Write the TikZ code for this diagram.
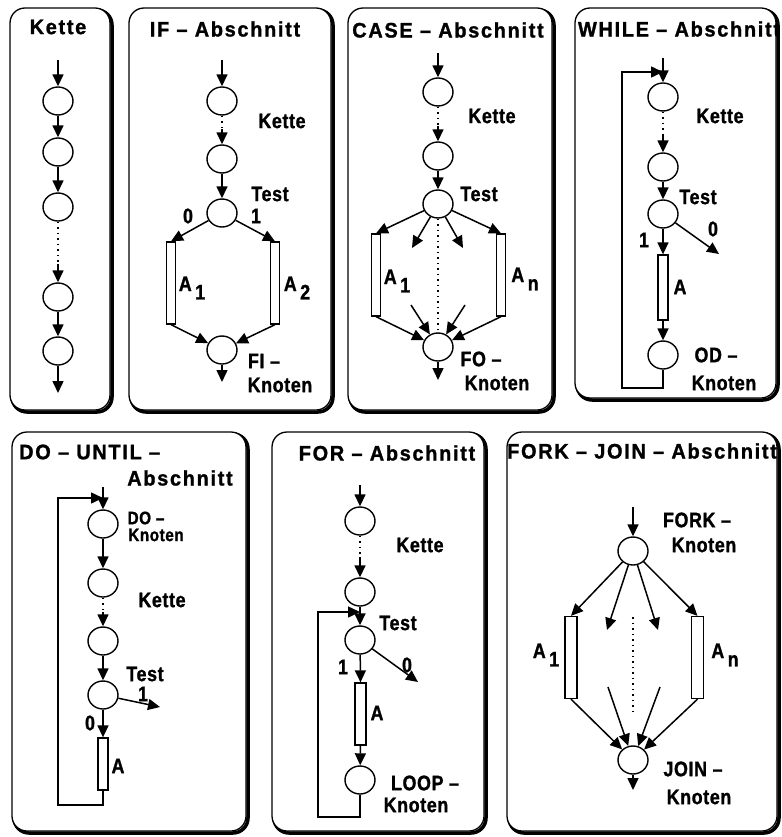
\documentclass[tikz,border=0pt]{standalone}
\usepackage{fontspec}
\newfontfamily\lbl[LetterSpace=3, FakeStretch=0.85, FakeBold=1.2]{Liberation Sans}
\newfontfamily\ttlf[LetterSpace=8, FakeStretch=0.95, FakeBold=1.2]{Liberation Sans}
\usetikzlibrary{arrows.meta,shapes.geometric}
\tikzset{
 every node/.style={font=\lbl\bfseries\fontsize{21}{22}\selectfont, inner sep=0pt},
 ttl/.style={font=\ttlf\bfseries\fontsize{21}{22}\selectfont},
 sml/.style={font=\lbl\bfseries\fontsize{18}{19}\selectfont},
 circ/.style={ellipse, draw, line width=1.4pt, minimum width=30pt, minimum height=28pt, inner sep=0pt, fill=white},
 rectA/.style={draw, line width=1.3pt, minimum width=9pt, minimum height=82pt, inner sep=0pt},
 arr/.style={line width=1.5pt, -{Triangle[length=12pt,width=11pt]}},
 dots/.style={line width=1.5pt, dash pattern=on 1.5pt off 4pt},
 panel/.style={draw, line width=1.3pt, rounded corners=15pt, fill=white},
 shadow/.style={draw, line width=3.5pt, rounded corners=15pt},
}
\newcommand\mypanel[4]{\draw[shadow] (#1+2,#2+2) rectangle (#3+2,#4+2); \draw[panel] (#1,#2) rectangle (#3,#4);}
\newcommand\sub[2]{#1\,\raisebox{-0.4em}{#2}}
\begin{document}
\begin{tikzpicture}[x=1pt,y=-1pt]
\fill[white] (0,0) rectangle (781,837);
\useasboundingbox (0,0) rectangle (781,837);

% ---------------- Panel 1: Kette
\mypanel{10}{8}{110}{410}
\node[ttl] (t1) at (58,27) {Kette};
\node[circ] (k1) at (58,101) {};
\node[circ] (k2) at (58,152) {};
\node[circ] (k3) at (58,207) {};
\node[circ] (k4) at (58,297) {};
\node[circ] (k5) at (58,351) {};
\coordinate (k0) at (58,60);
\coordinate (k6) at (58,393);
\coordinate (k3d) at (58,264);
\draw[arr] (k0) -- (k1);
\draw[arr] (k1) -- (k2);
\draw[arr] (k2) -- (k3);
\draw[dots] (k3) -- (k3d);
\draw[arr] (k3d) -- (k4);
\draw[arr] (k4) -- (k5);
\draw[arr] (k5) -- (k6);

% ---------------- Panel 2: IF
\mypanel{129}{8}{331}{410}
\node[ttl] (t2) at (225,29) {IF – Abschnitt};
\node[circ] (i1) at (222,101) {};
\node[circ] (i2) at (222,159) {};
\node[circ] (it) at (222,213) {};
\node[circ] (ifi) at (222,350) {};
\node[rectA] (ia1) at (171,283) {};
\node[rectA] (ia2) at (275,283) {};
\coordinate (i0) at (222,60);
\coordinate (i1d) at (222,129);
\coordinate (ix) at (222,382);
\draw[arr] (i0) -- (i1);
\draw[dots] (i1) -- (i1d);
\draw[arr] (i1d) -- (i2);
\draw[arr] (i2) -- (it);
\draw[arr] (it) -- (ia1.north);
\draw[arr] (it) -- (ia2.north);
\draw[arr] (ia1.south) -- (ifi);
\draw[arr] (ia2.south) -- (ifi);
\draw[arr] (ifi) -- (ix);
\node (il1) at (282,121) {Kette};
\node (il2) at (270,194) {Test};
\node (il3) at (188,216) {0};
\node (il4) at (256,216) {1};
\node (il5) at (192,288) {\sub{A}{1}};
\node (il6) at (297,288) {\sub{A}{2}};
\node (il7) at (264,361) {FI –};
\node (il8) at (280,385) {Knoten};

% ---------------- Panel 3: CASE
\mypanel{348}{8}{552}{410}
\node[ttl] (t3) at (448,30) {CASE – Abschnitt};
\node[circ] (c1) at (438,92) {};
\node[circ] (c2) at (438,156) {};
\node[circ] (ct) at (438,204) {};
\node[circ] (cfo) at (438,347) {};
\node[rectA] (ca1) at (376,275) {};
\node[rectA] (can) at (501,275) {};
\coordinate (c0) at (438,53);
\coordinate (c1d) at (438,126);
\coordinate (cx) at (438,380);
\coordinate (cm1) at (412,248);
\coordinate (cm2) at (463,248);
\coordinate (cn1) at (411,305);
\coordinate (cn2) at (465,305);
\draw[arr] (c0) -- (c1);
\draw[dots] (c1) -- (c1d);
\draw[arr] (c1d) -- (c2);
\draw[arr] (c2) -- (ct);
\draw[arr] (ct) -- (ca1.north);
\draw[arr] (ct) -- (can.north);
\draw[arr] (ct) -- (cm1);
\draw[arr] (ct) -- (cm2);
\draw[dots] (ct) -- (cfo);
\draw[arr] (cn1) -- (cfo);
\draw[arr] (cn2) -- (cfo);
\draw[arr] (ca1.south) -- (cfo);
\draw[arr] (can.south) -- (cfo);
\draw[arr] (cfo) -- (cx);
\node (cl1) at (492,116) {Kette};
\node (cl2) at (479,194) {Test};
\node (cl3) at (397,281) {\sub{A}{1}};
\node (cl4) at (525,279) {\sub{A}{n}};
\node (cl5) at (481,359) {FO –};
\node (cl6) at (497,383) {Knoten};

% ---------------- Panel 4: WHILE
\mypanel{575}{8}{776}{398}
\node[ttl] (t4) at (679,29) {WHILE – Abschnitt};
\node[circ] (w1) at (663,97) {};
\node[circ] (w2) at (663,167) {};
\node[circ] (wt) at (663,214) {};
\node[circ] (wod) at (663,355) {};
\node[rectA, minimum height=65pt, minimum width=10pt] (wa) at (663,287.5) {};
\coordinate (w0) at (663,58);
\coordinate (w1d) at (663,134);
\coordinate (wout) at (719,254);
\coordinate (wl1) at (663,388);
\coordinate (wl2) at (622,388);
\coordinate (wl3) at (622,72);
\coordinate (wl4) at (663,72);
\draw[arr] (w0) -- (w1);
\draw[dots] (w1) -- (w1d);
\draw[arr] (w1d) -- (w2);
\draw[arr] (w2) -- (wt);
\draw[arr] (wt) -- (wa.north);
\draw[arr] (wt) -- (wout);
\draw[arr] (wa.south) -- (wod);
\draw[arr] (wod) -- (wl1) -- (wl2) -- (wl3) -- (wl4);
\node (wk1) at (720,116) {Kette};
\node (wk2) at (698,197) {Test};
\node (wk3) at (713,229) {0};
\node (wk4) at (644,240) {1};
\node (wk5) at (680,287) {A};
\node (wk6) at (716,355) {OD –};
\node (wk7) at (724,383) {Knoten};

% ---------------- Panel 5: DO-UNTIL
\mypanel{12}{432}{246}{831}
\node[ttl, anchor=west] (t5) at (19,452) {DO – UNTIL –};
\node[ttl] (t5b) at (180,478) {Abschnitt};
\node[circ] (d1) at (103,524) {};
\node[circ] (d2) at (103,583) {};
\node[circ] (d3) at (103,641) {};
\node[circ] (dt) at (103,695) {};
\node[rectA, minimum height=52pt, minimum width=10pt] (da) at (103,764) {};
\coordinate (d0) at (103,487);
\coordinate (d2d) at (103,612);
\coordinate (dout) at (160,707);
\coordinate (dl1) at (103,805);
\coordinate (dl2) at (58,805);
\coordinate (dl3) at (58,498);
\coordinate (dl4) at (103,498);
\draw[arr] (d0) -- (d1);
\draw[arr] (d1) -- (d2);
\draw[dots] (d2) -- (d2d);
\draw[arr] (d2d) -- (d3);
\draw[arr] (d3) -- (dt);
\draw[arr] (dt) -- (da.north);
\draw[arr] (dt) -- (dout);
\draw[arr] (da.south) -- (dl1) -- (dl2) -- (dl3) -- (dl4);
\node[sml] (dk1) at (146,518) {DO –};
\node[sml] (dk2) at (156,535) {Knoten};
\node (dk3) at (162,600) {Kette};
\node (dk4) at (145,674) {Test};
\node (dk5) at (90,723) {0};
\node (dk6) at (143,694) {1};
\node (dk7) at (118,766) {A};

% ---------------- Panel 6: FOR
\mypanel{272}{432}{484}{831}
\node[ttl] (t6) at (387,453) {FOR – Abschnitt};
\node[circ] (f1) at (360,521) {};
\node[circ] (f2) at (360,592) {};
\node[circ] (ft) at (360,640) {};
\node[circ] (flp) at (360,780) {};
\node[rectA, minimum height=62pt, minimum width=11pt] (fa) at (360.5,714) {};
\coordinate (f0) at (360,485);
\coordinate (f1d) at (360,557);
\coordinate (fout) at (418,682);
\coordinate (fl1) at (360,817);
\coordinate (fl2) at (318,817);
\coordinate (fl3) at (318,612);
\coordinate (fl4) at (360,612);
\draw[arr] (f0) -- (f1);
\draw[dots] (f1) -- (f1d);
\draw[arr] (f1d) -- (f2);
\draw[arr] (f2) -- (ft);
\draw[arr] (ft) -- (fa.north);
\draw[arr] (ft) -- (fout);
\draw[arr] (fa.south) -- (flp);
\draw[arr] (flp) -- (fl1) -- (fl2) -- (fl3) -- (fl4);
\node (fk1) at (420,545) {Kette};
\node (fk2) at (398,623) {Test};
\node (fk3) at (343,667) {1};
\node (fk4) at (407,665) {0};
\node (fk5) at (377,713) {A};
\node (fk6) at (425,783) {LOOP –};
\node (fk7) at (416,805) {Knoten};

% ---------------- Panel 7: FORK-JOIN
\mypanel{507}{432}{777}{831}
\node[ttl, anchor=west] (t7) at (507,451) {FORK – JOIN – Abschnitt};
\node[circ] (jf) at (633,551) {};
\node[circ] (jj) at (633,760) {};
\node[rectA, minimum width=12pt] (ja1) at (571,657.5) {};
\node[rectA, minimum width=12pt] (jan) at (697.5,657.5) {};
\coordinate (j0) at (633,507);
\coordinate (jx) at (633,790);
\coordinate (jm1) at (607,630);
\coordinate (jm2) at (658,630);
\coordinate (jn1) at (608,687);
\coordinate (jn2) at (660,687);
\coordinate (jd1) at (633,617);
\coordinate (jd2) at (633,713);
\draw[arr] (j0) -- (jf);
\draw[arr] (jf) -- (ja1.north);
\draw[arr] (jf) -- (jan.north);
\draw[arr] (jf) -- (jm1);
\draw[arr] (jf) -- (jm2);
\draw[dots] (jd1) -- (jd2);
\draw[arr] (jn1) -- (jj);
\draw[arr] (jn2) -- (jj);
\draw[arr] (ja1.south) -- (jj);
\draw[arr] (jan.south) -- (jj);
\draw[arr] (jj) -- (jx);
\node (jk1) at (697,520) {FORK –};
\node (jk2) at (704,545) {Knoten};
\node (jk3) at (546,655) {\sub{A}{1}};
\node (jk4) at (725,655) {\sub{A}{n}};
\node (jk5) at (693,769) {JOIN –};
\node (jk6) at (699,797) {Knoten};
\end{tikzpicture}
\end{document}
